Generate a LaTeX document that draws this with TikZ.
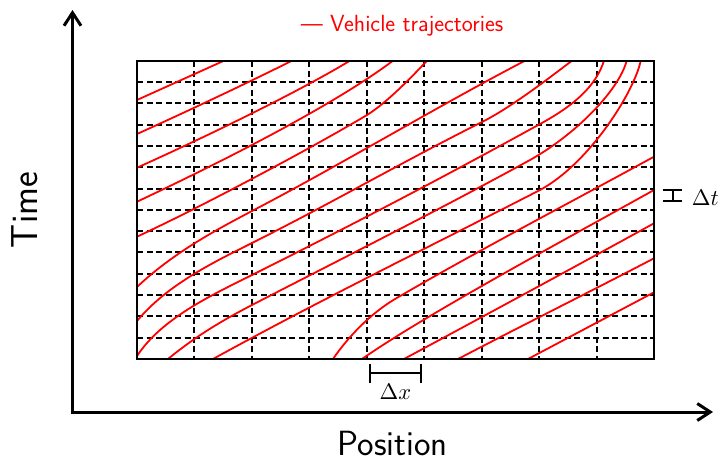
\documentclass[tikz,border=0pt]{standalone}
\usepackage{fontspec}
\usetikzlibrary{arrows.meta}
\begin{document}
\begin{tikzpicture}[x=1pt,y=-1pt,
  traj/.style={red, line width=1.8pt, line join=round},
  gridline/.style={black, line width=2pt, dash pattern=on 6pt off 3.5pt},
  frame/.style={black, line width=2pt},
  axisline/.style={black, line width=3pt, {Straight Barb[length=13pt,width=17pt]}-{Straight Barb[length=13pt,width=17pt]}},
  bracket/.style={black, line width=2pt, {Bar[width=19pt]}-{Bar[width=19pt]}},
  lab/.style={inner sep=0pt, font=\sffamily\fontsize{35}{42}\selectfont},
  mlab/.style={inner sep=0pt, scale=2.25}]
\path[use as bounding box] (0,0) rectangle (718,464);

% axes
\coordinate (origin) at (72.5,412);
\coordinate (ytip) at (72.5,10);
\coordinate (xtip) at (713,412);
\draw[axisline] (ytip) -- (origin) -- (xtip);
\node[lab, rotate=90, anchor=base, font=\sffamily\fontsize{37.5}{44}\selectfont] (tlab) at (37,210) {Time};
\node[lab, anchor=base] (plab) at (392.5,455) {Position};

% legend
\node[inner sep=0pt, anchor=base, red, font=\sffamily\fontsize{23.4}{28}\selectfont] (legend) at (402,31.7) {\textemdash{} Vehicle trajectories};

% grid
\foreach \gx in {194,252,309,367,424,482,539,597} {
  \draw[gridline] (\gx,61) -- (\gx,359);
}
\foreach \gy in {82,103,125,146,167,189,210,231,252,274,295,316,338} {
  \draw[gridline] (137,\gy) -- (654,\gy);
}

% trajectories
\begin{scope}
\clip (137,61) rectangle (654,359);
\draw[traj] (137,100) -- (224,60.7);
\draw[traj] (137,134) .. controls +(52,-23.4) and +(-40,20) .. (292,60.7);
\draw[traj] (137,167.7) .. controls +(71,-32) and +(-55,33) .. (350,60.7);
\draw[traj] (137,201.7) .. controls +(85,-40) and +(-60,45) .. (393,60.7);
\draw[traj] (137,236.7) .. controls +(75,-35) and +(-45,27) .. (367,115)
                        .. controls +(20,-12.4) and +(-15,16) .. (427,60.7);
\draw[traj] (137,287) .. controls +(35,-33) and +(-40,21) .. (252,211)
                      .. controls +(90,-47) and +(-90,47) .. (525,60.7);
\draw[traj] (137,321) .. controls +(30,-36) and +(-40,20) .. (252,243)
                      .. controls +(77,-38.5) and +(-77,38.5) .. (482,122)
                      .. controls +(30,-15) and +(-20,15) .. (572,60.7);
\draw[traj] (137,356) .. controls +(25,-38) and +(-40,20) .. (252,275)
                      .. controls +(96,-48) and +(-96,53) .. (540,124)
                      .. controls +(35,-19) and +(-8,25) .. (604,60.7);
\draw[traj] (168,359) .. controls +(28,-23) and +(-30,15.6) .. (252,305)
                      .. controls +(93,-48) and +(-93,51) .. (530,160)
                      .. controls +(45,-25) and +(-8,30) .. (626.7,60.7);
\draw[traj] (213,359) .. controls +(109,-60) and +(-109,56) .. (540,190)
                      .. controls +(50,-27) and +(-6,30) .. (640.7,60.7);
\draw[traj] (333,359) .. controls +(15,-22) and +(-25,15) .. (395,299)
                      .. controls +(86,-50) and +(-86,47) .. (654,156.7);
\draw[traj] (362,359) .. controls +(60,-42) and +(-97,54) .. (654,190);
\draw[traj] (404,359) .. controls +(80,-43) and +(-80,44) .. (654,223.3);
\draw[traj] (458,359) .. controls +(65,-34) and +(-65,34) .. (654,258.3);
\draw[traj] (528,359) -- (654,292.3);
\end{scope}

% frame
\draw[frame] (137,61) rectangle (654,359);

% delta x
\coordinate (dxl) at (369,373);
\coordinate (dxr) at (422,373);
\draw[bracket] (dxl) -- (dxr);
\node[mlab, anchor=base] (dxlab) at (395.5,399.3) {$\Delta x$};

% delta t
\coordinate (dtt) at (672.5,189);
\coordinate (dtb) at (672.5,202);
\draw[bracket] (dtt) -- (dtb);
\node[mlab, anchor=base west] (dtlab) at (691.5,205) {$\Delta t$};
\end{tikzpicture}
\end{document}
